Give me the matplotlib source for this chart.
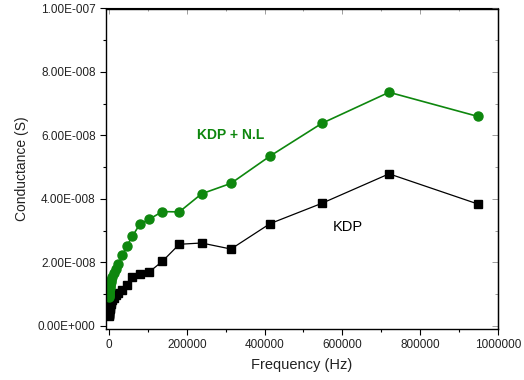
import matplotlib.pyplot as plt
import numpy as np
from matplotlib.ticker import FuncFormatter, MultipleLocator

plt.rcParams['font.family'] = ['Liberation Sans', 'DejaVu Sans']

# Frequency sweep (Hz), low to high
freq = [100, 140, 200, 280, 400, 560, 800, 1100, 1600, 2200, 3100,
        4400, 6200, 8700, 12300, 17300, 24400, 34400, 45500, 60000,
        79000, 103600, 137000, 180700, 238000, 313600, 414000, 547000,
        720000, 948000]

# Conductance (S) of pure KDP
g_kdp = [3.2e-9, 3.4e-9, 3.6e-9, 3.8e-9, 4.0e-9, 4.3e-9, 4.6e-9, 4.9e-9,
         5.3e-9, 5.7e-9, 6.2e-9, 6.8e-9, 7.4e-9, 8.1e-9, 8.9e-9, 9.6e-9,
         1.04e-8, 1.13e-8, 1.29e-8, 1.54e-8, 1.62e-8, 1.70e-8, 2.03e-8,
         2.57e-8, 2.61e-8, 2.42e-8, 3.22e-8, 3.86e-8, 4.79e-8, 3.84e-8]

# Conductance (S) of KDP doped with N.L
g_kdp_nl = [9.0e-9, 9.3e-9, 9.6e-9, 9.9e-9, 1.02e-8, 1.06e-8, 1.10e-8,
            1.14e-8, 1.19e-8, 1.24e-8, 1.30e-8, 1.37e-8, 1.45e-8, 1.54e-8,
            1.65e-8, 1.78e-8, 1.95e-8, 2.22e-8, 2.51e-8, 2.82e-8, 3.20e-8,
            3.36e-8, 3.60e-8, 3.59e-8, 4.16e-8, 4.49e-8, 5.35e-8, 6.38e-8,
            7.36e-8, 6.60e-8]

fig = plt.figure(figsize=(5.24, 3.80), dpi=100)
ax = fig.add_axes([106 / 524, 1 - 329 / 380, 392 / 524, 320.5 / 380])

ax.plot(freq, g_kdp, color='black', lw=0.9, marker='s', ms=5.2,
        mec='black', mfc='black')
ax.plot(freq, g_kdp_nl, color='#0e870e', lw=1.2, marker='o', ms=6.5,
        mec='#0e870e', mfc='#0e870e')

ax.text(313600, 6.0e-8, 'KDP + N.L', color='#0e870e', fontsize=10,
        fontweight='bold', ha='center', va='center')
ax.text(614000, 3.13e-8, 'KDP', color='black', fontsize=10.5,
        ha='center', va='center')

ax.set_xlim(-7700, 1000000)
ax.set_ylim(-1.0e-9, 1.0e-7)
ax.xaxis.set_major_locator(MultipleLocator(200000))
ax.xaxis.set_minor_locator(MultipleLocator(100000))
ax.yaxis.set_major_locator(MultipleLocator(2e-8))
ax.yaxis.set_minor_locator(MultipleLocator(1e-8))


def sci3(v, pos):
    # Mantissa with a three-digit exponent, e.g. 2.00E-008
    if abs(v) < 1e-15:
        return '0.00E+000'
    exp = int(np.floor(np.log10(abs(v)) + 1e-9))
    mant = v / 10 ** exp
    sign = '-' if exp < 0 else '+'
    return f'{mant:.2f}E{sign}{abs(exp):03d}'


ax.yaxis.set_major_formatter(FuncFormatter(sci3))
ax.xaxis.set_major_formatter(FuncFormatter(lambda v, p: f'{int(v)}'))

ax.tick_params(which='both', direction='out', labelsize=8.5, width=0.8,
               colors='black', labelcolor='#222222')
ax.tick_params(which='major', length=4)
ax.tick_params(which='minor', length=2.5)

# Inward ticks on the opposite spines, no labels
ax_top = ax.secondary_xaxis('top')
ax_top.xaxis.set_major_locator(MultipleLocator(200000))
ax_top.xaxis.set_minor_locator(MultipleLocator(100000))
ax_top.tick_params(which='both', direction='in', labeltop=False,
                   width=0.5, colors='#777777')
ax_top.tick_params(which='major', length=4)
ax_top.tick_params(which='minor', length=2.5)
ax_right = ax.secondary_yaxis('right')
ax_right.yaxis.set_major_locator(MultipleLocator(2e-8))
ax_right.yaxis.set_minor_locator(MultipleLocator(1e-8))
ax_right.tick_params(which='both', direction='in', labelright=False,
                     width=0.5, colors='#777777')
ax_right.tick_params(which='major', length=4)
ax_right.tick_params(which='minor', length=2.5)
ax_top.spines['top'].set_color('black')
ax_right.spines['right'].set_color('black')

for s in ax.spines.values():
    s.set_linewidth(1.0)

ax.set_xlabel('Frequency (Hz)', fontsize=10.5, color='#222222', labelpad=5)
ax.set_ylabel('Conductance (S)', fontsize=10, color='#222222', labelpad=6)

fig.savefig('out.png', dpi=100)
